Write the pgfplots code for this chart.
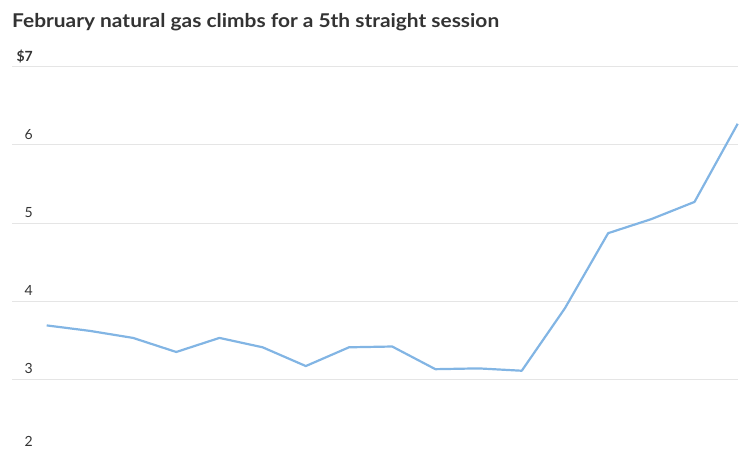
\documentclass[border=0pt]{standalone}
\usepackage{pgfplots}
\pgfplotsset{compat=1.18}
\usepackage{fontspec}
\setmainfont{Lato}
\newfontfamily\titlefont[FakeStretch=1.10]{Lato}
\definecolor{linec}{HTML}{82B5E4}
\definecolor{gridc}{HTML}{E5E5E5}
\definecolor{txt}{HTML}{333333}
\begin{document}
\begin{tikzpicture}[x=1pt,y=1pt]
\useasboundingbox (0,0) rectangle (750,450);
\clip (0,0) rectangle (750,450);
\node[anchor=base west, inner sep=0, text=txt, font=\titlefont\fontsize{19}{19}\selectfont\bfseries] at (12,422.3) {February natural gas climbs for a 5th straight session};
\begin{axis}[
  at={(12pt,-7.5pt)}, anchor=south west,
  scale only axis, width=726pt, height=390.8pt,
  xmin=-0.803, xmax=16.007, ymin=2, ymax=7,
  axis line style={draw=none},
  xtick=\empty,
  ytick={2,3,4,5,6,7},
  yticklabels={\raisebox{5pt}{2},3,4,5,6,\textbf{\$7}},
  major tick length=0pt,
  ymajorgrids,
  major grid style={gridc, line width=1pt},
  yticklabel style={anchor=base east, inner sep=0pt, xshift=21pt, yshift=5.5pt, text=txt, font=\fontsize{14}{14}\selectfont},
  /pgf/number format/assume math mode=true,
  clip=false,
]
\addplot[linec, line width=2.2pt, line join=round] coordinates {
(0,3.69) (1,3.62) (2,3.53) (3,3.35) (4,3.53) (5,3.41) (6,3.17) (7,3.41) (8,3.42)
(9,3.13) (10,3.14) (11,3.11) (12,3.91) (13,4.87) (14,5.05) (15,5.27) (16,6.27)
};
\end{axis}
\end{tikzpicture}
\end{document}
